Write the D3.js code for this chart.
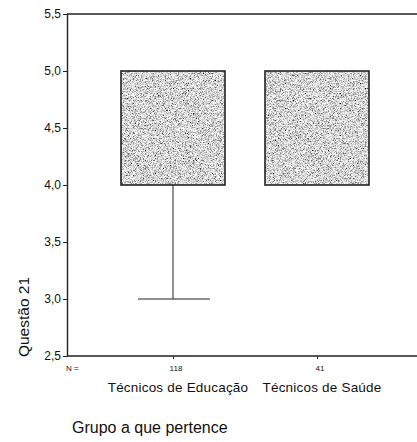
<!DOCTYPE html>
<html>
<head>
<meta charset="utf-8">
<script src="https://cdn.jsdelivr.net/npm/d3@7"></script>
<style>
  body { margin: 0; background: #fff; overflow: hidden; }
  svg { display: block; }
  text { font-family: "Liberation Sans", Arial, sans-serif; fill: #111; }
</style>
</head>
<body>
<div id="chart"></div>
<script>
// data
var groups = ["Técnicos de Educação", "Técnicos de Saúde"];
var counts = [118, 41];
var q1 = [4.0, 4.0];
var q3 = [5.0, 5.0];
var whiskerLow = [3.0, 4.0];
var whiskerHigh = [5.0, 5.0];
var yTicks = [2.5, 3.0, 3.5, 4.0, 4.5, 5.0, 5.5];

var width = 417, height = 442;
var plotLeft = 67, plotTop = 14, plotBottom = 356, plotRight = width + 6;

var svg = d3.select("#chart").append("svg")
    .attr("width", width)
    .attr("height", height);

// grainy print texture for the boxes
var defs = svg.append("defs");
var filt = defs.append("filter").attr("id", "grain")
    .attr("x", 0).attr("y", 0).attr("width", 1).attr("height", 1);
filt.append("feTurbulence")
    .attr("type", "fractalNoise")
    .attr("baseFrequency", 1.4)
    .attr("numOctaves", 1)
    .attr("seed", 7)
    .attr("result", "noise");
filt.append("feColorMatrix")
    .attr("in", "noise")
    .attr("type", "matrix")
    .attr("values", "2.5 0 0 0 -0.58  2.5 0 0 0 -0.58  2.5 0 0 0 -0.58  0 0 0 0 1")
    .attr("result", "speckle");
filt.append("feComposite")
    .attr("in", "speckle").attr("in2", "SourceGraphic")
    .attr("operator", "in");

var y = d3.scaleLinear().domain([2.5, 5.5]).range([plotBottom, plotTop]);
var x = d3.scalePoint().domain(groups).range([173, 317]);
var boxW = 104;

// frame (top and bottom only, running off the right edge)
svg.append("path")
    .attr("d", "M" + plotLeft + "," + plotTop + "H" + plotRight)
    .attr("stroke", "#222").attr("stroke-width", 1.3).attr("fill", "none");
svg.append("path")
    .attr("d", "M" + plotLeft + "," + plotBottom + "H" + plotRight)
    .attr("stroke", "#222").attr("stroke-width", 1.3).attr("fill", "none");

// y axis
var yAxis = svg.append("g")
    .attr("transform", "translate(" + plotLeft + ",0)")
    .call(d3.axisLeft(y).tickValues(yTicks).tickSize(4).tickSizeOuter(0)
        .tickFormat(function(d) { return d3.format(".1f")(d).replace(".", ","); }));
yAxis.select(".domain").attr("stroke", "#222").attr("stroke-width", 1.4);
yAxis.selectAll(".tick line").attr("stroke", "#222");
yAxis.selectAll(".tick text").attr("font-size", 12).attr("x", -6)
    .style("font-family", "'Liberation Sans', Arial, sans-serif").attr("fill", "#111");

// x ticks
var xAxis = svg.append("g")
    .attr("transform", "translate(0," + plotBottom + ")")
    .call(d3.axisBottom(x).tickSize(3).tickFormat(""));
xAxis.select(".domain").remove();
xAxis.selectAll(".tick line").attr("stroke", "#222");

// whiskers and boxes
var g = svg.append("g");
groups.forEach(function(grp, i) {
    var cx = x(grp);
    if (whiskerLow[i] < q1[i]) {
        g.append("line").attr("x1", cx).attr("x2", cx)
            .attr("y1", y(q1[i])).attr("y2", y(whiskerLow[i]))
            .attr("stroke", "#222").attr("stroke-width", 1);
        g.append("line").attr("x1", cx - 35).attr("x2", cx + 37)
            .attr("y1", y(whiskerLow[i])).attr("y2", y(whiskerLow[i]))
            .attr("stroke", "#222").attr("stroke-width", 1.2);
    }
    if (whiskerHigh[i] > q3[i]) {
        g.append("line").attr("x1", cx).attr("x2", cx)
            .attr("y1", y(q3[i])).attr("y2", y(whiskerHigh[i]))
            .attr("stroke", "#222");
    }
    g.append("rect")
        .attr("x", cx - boxW / 2)
        .attr("y", y(q3[i]))
        .attr("width", boxW)
        .attr("height", y(q1[i]) - y(q3[i]))
        .attr("fill", "#b0b0b0")
        .attr("filter", "url(#grain)");
    g.append("rect")
        .attr("x", cx - boxW / 2)
        .attr("y", y(q3[i]))
        .attr("width", boxW)
        .attr("height", y(q1[i]) - y(q3[i]))
        .attr("fill", "none")
        .attr("stroke", "#222").attr("stroke-width", 1.6);

    svg.append("text").attr("x", cx + 3).attr("y", plotBottom + 15)
        .attr("text-anchor", "middle").attr("font-size", 8)
        .text(counts[i]);
    svg.append("text").attr("x", cx + 5).attr("y", plotBottom + 36)
        .attr("text-anchor", "middle").attr("font-size", 13.5)
        .attr("letter-spacing", 0.2)
        .text(grp);
});

svg.append("text").attr("x", plotLeft - 1).attr("y", plotBottom + 15)
    .attr("font-size", 8).text("N =");

// axis titles
svg.append("text")
    .attr("transform", "translate(29,317) rotate(-90)")
    .attr("text-anchor", "middle").attr("font-size", 15.5)
    .text("Questão 21");
svg.append("text").attr("x", 72).attr("y", 433)
    .attr("font-size", 16).text("Grupo a que pertence");
</script>
</body>
</html>
